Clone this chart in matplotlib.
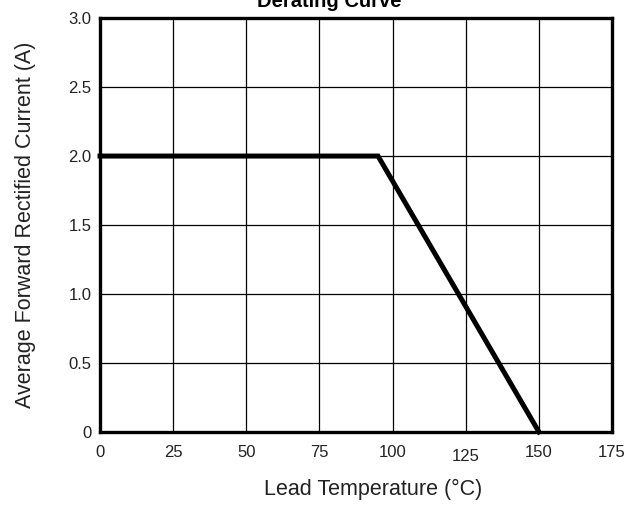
import matplotlib
matplotlib.use('Agg')
import matplotlib.pyplot as plt
import matplotlib.transforms as mtransforms

# curve data
temp = [0, 95, 150]
current = [2.0, 2.0, 0.0]

x_ticks = [0, 25, 50, 75, 100, 125, 150, 175]
y_ticks = [0, 0.5, 1.0, 1.5, 2.0, 2.5, 3.0]
y_tick_labels = ['0', '0.5', '1.0', '1.5', '2.0', '2.5', '3.0']

plt.rcParams['font.family'] = ['Liberation Sans', 'DejaVu Sans']

fig = plt.figure(figsize=(6.33, 5.05), dpi=100)
ax = fig.add_axes([0.158, 0.1446, 0.809, 0.8196])

ax.plot(temp, current, color='black', linewidth=3.6, solid_joinstyle='miter', clip_on=False, zorder=3)

ax.set_xlim(0, 175)
ax.set_ylim(0, 3.0)
ax.set_xticks(x_ticks)
ax.set_xticklabels([str(t) for t in x_ticks])
ax.set_yticks(y_ticks)
ax.set_yticklabels(y_tick_labels)
ax.tick_params(length=0, labelsize=12, colors='#222222')
ax.tick_params(axis='x', pad=9.5)
ax.tick_params(axis='y', pad=6)
ax.grid(True, color='black', linewidth=0.9)
for s in ax.spines.values():
    s.set_linewidth(2.4)
    s.set_zorder(4)

# the "125" label sits a little lower in the original
lbl = ax.get_xticklabels()[5]
lbl.set_transform(lbl.get_transform() + mtransforms.ScaledTranslation(0, -3 / 72, fig.dpi_scale_trans))

ax.set_xlabel('Lead Temperature (°C)', fontsize=15.5, color='#222222', va='center')
ax.set_ylabel('Average Forward Rectified Current (A)', fontsize=15.5, color='#222222', va='center')
ax.xaxis.set_label_coords(0.533, -0.140)
ax.yaxis.set_label_coords(-0.146, 0.5)

# title is partly cut off at the top edge, as in the original
fig.text(0.52, 0.997, 'Derating Curve', fontsize=14.5, fontweight='bold', ha='center', va='center')

fig.savefig('out.png', dpi=100)
